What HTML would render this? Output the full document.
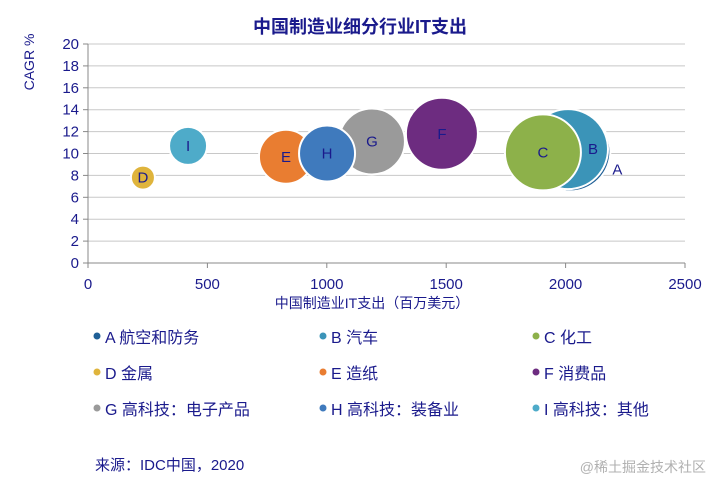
<!DOCTYPE html>
<html><head><meta charset="utf-8"><style>
body{margin:0;background:#fff;width:720px;height:492px;overflow:hidden;font-family:"Liberation Sans","Noto Sans CJK SC",sans-serif;}
svg text{font-family:"Liberation Sans","Noto Sans CJK SC",sans-serif;}
</style></head><body>
<svg id="chart" width="720" height="492"></svg>
<script>
const categories=["A","B","C","D","E","F","G","H","I"];
const names=["航空和防务","汽车","化工","金属","造纸","消费品","高科技：电子产品","高科技：装备业","高科技：其他"];
const spend=[2020,2010,1905,230,829,1482,1189,1001,419];
const cagr=[10.2,10.4,10.1,7.8,9.7,11.8,11.1,10.0,10.7];
const sizes=[40,40,38,12,27,36,33,28,19];
const xTicks=[0,500,1000,1500,2000,2500];
const yTicks=[0,2,4,6,8,10,12,14,16,18,20];
const colors=["#1f5f96","#3b94b8","#8db14a","#dfb43c","#e97d31","#6d2c80","#9a9a9a","#3f7abd","#4eabc9"];
const NS="http://www.w3.org/2000/svg",svg=document.getElementById('chart');
const X0=88,X1=685,Y0=263,Y1=44;
const xs=v=>X0+(v/2500)*(X1-X0), ys=v=>Y0-(v/20)*(Y0-Y1);
function el(t,a,p){const e=document.createElementNS(NS,t);for(const k in a)e.setAttribute(k,a[k]);(p||svg).appendChild(e);return e;}
const navy="#1a1a8c";
let t=el('text',{x:360,y:33,'text-anchor':'middle','font-size':18,'font-weight':'bold',fill:navy});t.textContent="中国制造业细分行业IT支出";


yTicks.forEach(v=>{
 const g=el('line',{x1:X0,x2:X1,y1:ys(v),y2:ys(v),stroke:v===0?'#888':'#c8c8c8','stroke-width':1});
 
 
 el('line',{x1:X0-5,x2:X0,y1:ys(v),y2:ys(v),stroke:'#888'});
 const l=el('text',{x:X0-9,y:ys(v)+5,'text-anchor':'end','font-size':15,fill:navy});l.textContent=v;
 
 
});
el('line',{x1:X0,x2:X0,y1:Y1,y2:Y0,stroke:'#888'});
xTicks.forEach(v=>{
 el('line',{x1:xs(v),x2:xs(v),y1:Y0,y2:Y0+5,stroke:'#888'});
 const l=el('text',{x:xs(v),y:Y0+26,'text-anchor':'middle','font-size':15,fill:navy});l.textContent=v;
 
 
});
t=el('text',{x:372,y:308,'text-anchor':'middle','font-size':14,fill:navy});t.textContent="中国制造业IT支出（百万美元）";


t=el('text',{x:0,y:0,transform:'translate(34,62) rotate(-90)','text-anchor':'middle','font-size':14,fill:navy});t.textContent="CAGR %";


const order=[0,1,2,3,4,5,6,7,8];
order.forEach(i=>{
 const c=el('circle',{cx:xs(spend[i]),cy:ys(cagr[i]),r:sizes[i],fill:colors[i],stroke:'#fff','stroke-width':2});
 
 
 if(i===0){const l=el('text',{x:xs(spend[i])+sizes[i]+7,y:ys(cagr[i])+23,'text-anchor':'middle','font-size':15,fill:navy});l.textContent="A";
  
  }
 else{const dx=i===1?25:0;const l=el('text',{x:xs(spend[i])+dx,y:ys(cagr[i])+5,'text-anchor':'middle','font-size':15,fill:navy});l.textContent=categories[i];
  
  }
});
const colX=[92,318,531],rowY=[337,373,409];
categories.forEach((c,i)=>{
 const x=colX[i%3],y=rowY[Math.floor(i/3)];
 const d=el('circle',{cx:x+5,cy:y-1,r:3.5,fill:colors[i]});
 
 
 const l=el('text',{x:x+13,y:y+6,'font-size':16,fill:navy});l.textContent=c+" "+names[i];
 
 
});
t=el('text',{x:95,y:470,'font-size':15,fill:navy});t.textContent="来源：IDC中国，2020";


t=el('text',{x:706,y:472,'text-anchor':'end','font-size':14,fill:'#b0b0b0'});t.textContent="@稀土掘金技术社区";


</script>
</body></html>
